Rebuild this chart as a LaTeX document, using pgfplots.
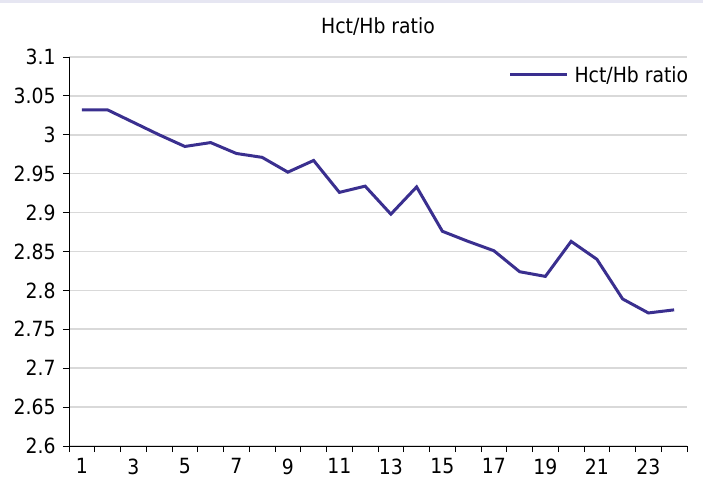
\documentclass[border=0pt]{standalone}
\usepackage{pgfplots}
\pgfplotsset{compat=1.18}
\usepackage{fontspec}
\setmainfont{DejaVu Sans Condensed}
\definecolor{linec}{HTML}{3A2F8F}
\definecolor{gridc}{HTML}{D9D9D9}
\definecolor{bandc}{HTML}{E6E6F2}
\begin{document}
\begin{tikzpicture}
\useasboundingbox (-69bp,-40bp) rectangle (634bp,446bp);
\fill[bandc] (-69bp,443bp) rectangle (634bp,446bp);
\begin{axis}[
  at={(0,0)}, anchor=south west,
  scale only axis, width=618bp, height=389bp,
  xmin=0.5, xmax=24.5, ymin=2.6, ymax=3.1,
  axis x line=bottom, axis y line=left,
  axis line style={-, black, line width=0.9bp},
  xtick={1,3,...,23},
  minor xtick={0.5,1.5,...,24.5},
  ytick={2.6,2.65,...,3.11},
  major x tick style={draw=none},
  tick align=outside,
  tick style={black, line width=0.9bp},
  major tick length=6bp, minor tick length=6bp,
  ymajorgrids, grid style={gridc, line width=1.6bp},
  ticklabel style={font=\fontsize{21}{24}\selectfont},
  /pgf/number format/assume math mode=true,
  yticklabel style={/pgf/number format/.cd, fixed, precision=2, /tikz/xshift=-4bp},
  xticklabel style={yshift=-3bp},
  title={\fontsize{21}{24}\selectfont Hct/Hb ratio},
  title style={yshift=12bp},
  legend style={draw=none, fill=none, at={(1.012,0.982)}, anchor=north east, inner sep=0pt,
    font=\fontsize{21}{24}\selectfont, nodes={inner xsep=6bp}},
  legend cell align=left,
  legend image code/.code={\draw[#1] (0bp,0bp) -- (57bp,0bp);},
]
\addplot[linec, line width=3bp] coordinates {
(1,3.032) (2,3.032) (3,3.016) (4,3.000) (5,2.985) (6,2.990) (7,2.976) (8,2.971)
(9,2.952) (10,2.967) (11,2.926) (12,2.934) (13,2.898) (14,2.933) (15,2.876)
(16,2.863) (17,2.851) (18,2.824) (19,2.818) (20,2.863) (21,2.840) (22,2.789)
(23,2.771) (24,2.775)
};
\addlegendentry{Hct/Hb ratio}
\end{axis}
\end{tikzpicture}
\end{document}
